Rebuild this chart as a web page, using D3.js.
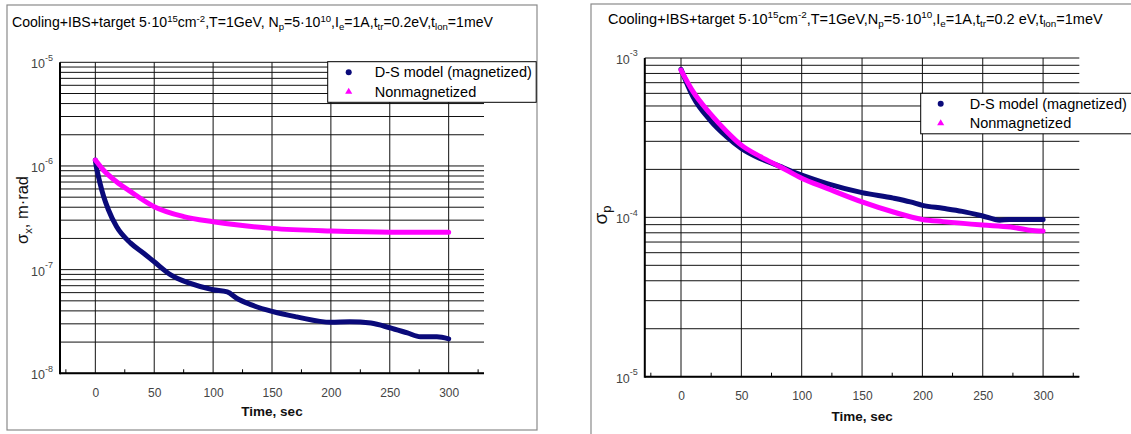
<!DOCTYPE html>
<html>
<head>
<meta charset="utf-8">
<script src="https://cdn.jsdelivr.net/npm/d3@7/dist/d3.min.js"></script>
<style>
  html, body { margin: 0; padding: 0; background: #fff; }
  svg { display: block; font-family: "Liberation Sans", Arial, sans-serif; }
</style>
</head>
<body>
<svg id="chart" width="1131" height="434"></svg>
<script>
// Shared time axis
const xDomain = [-30, 330];
const timeTicks = [0, 50, 100, 150, 200, 250, 300];
const timeMinorTicks = [-25, 25, 75, 125, 175, 225, 275, 325];

// Transverse emittance (left panel)
const emitDecades = [1e-8, 1e-7, 1e-6, 1e-5];
const emitMagT = [0, 1, 2, 4, 7, 11, 18, 30, 41, 50, 64, 80, 100, 112, 120, 132, 150, 171, 200, 216, 234, 250, 265, 276, 290, 300];
const emitMagV = [1.14e-6, 9.6e-7, 8.5e-7, 6.8e-7, 5.1e-7, 3.8e-7, 2.6e-7, 1.8e-7, 1.44e-7, 1.19e-7, 8.9e-8, 7.4e-8, 6.4e-8, 6.1e-8, 5.3e-8, 4.6e-8, 3.95e-8, 3.5e-8, 3.1e-8, 3.15e-8, 3.05e-8, 2.75e-8, 2.45e-8, 2.25e-8, 2.25e-8, 2.15e-8];
const emitNonT = [0, 7, 18, 30, 50, 75, 100, 125, 150, 200, 250, 300];
const emitNonV = [1.14e-6, 9.1e-7, 7.05e-7, 5.65e-7, 4.05e-7, 3.25e-7, 2.9e-7, 2.66e-7, 2.5e-7, 2.36e-7, 2.3e-7, 2.3e-7];

// Momentum spread (right panel)
const spreadDecades = [1e-5, 1e-4, 1e-3];
const spreadMagT = [0, 10, 24, 38, 50, 65, 80, 100, 121, 150, 176, 190, 200, 217, 233, 250, 264, 272, 285, 300];
const spreadMagV = [8.5e-4, 5.7e-4, 4.08e-4, 3.2e-4, 2.71e-4, 2.35e-4, 2.12e-4, 1.84e-4, 1.63e-4, 1.43e-4, 1.32e-4, 1.25e-4, 1.19e-4, 1.14e-4, 1.09e-4, 1.02e-4, 9.6e-5, 9.7e-5, 9.7e-5, 9.7e-5];
const spreadNonT = [0, 10, 24, 38, 50, 66, 82, 100, 121, 150, 176, 200, 217, 250, 273, 289, 300];
const spreadNonV = [8.4e-4, 6.15e-4, 4.5e-4, 3.45e-4, 2.84e-4, 2.4e-4, 2.08e-4, 1.76e-4, 1.52e-4, 1.25e-4, 1.08e-4, 9.7e-5, 9.4e-5, 8.95e-5, 8.7e-5, 8.3e-5, 8.2e-5];

const seriesNames = ["D-S model (magnetized)", "Nonmagnetized"];
const seriesColors = ["#0a0a7a", "#ff00ff"];

// Title pieces: [text, kind] where kind is "", "sup" or "sub"
const titleLeft = [["Cooling+IBS+target 5·10", ""], ["15", "sup"], ["cm", ""], ["-2", "sup"],
  [",T=1GeV, N", ""], ["p", "sub"], ["=5·10", ""], ["10", "sup"], [",I", ""], ["e", "sub"],
  ["=1A,t", ""], ["tr", "sub"], ["=0.2eV,t", ""], ["lon", "sub"], ["=1meV", ""]];
const titleRight = [["Cooling+IBS+target 5·10", ""], ["15", "sup"], ["cm", ""], ["-2", "sup"],
  [",T=1GeV,N", ""], ["p", "sub"], ["=5·10", ""], ["10", "sup"], [",I", ""], ["e", "sub"],
  ["=1A,t", ""], ["tr", "sub"], ["=0.2 eV,t", ""], ["lon", "sub"], ["=1meV", ""]];

const zip = (ts, vs) => ts.map((t, i) => ({ t, v: vs[i] }));

const svg = d3.select("#chart");
svg.append("rect").attr("width", 1131).attr("height", 434).attr("fill", "#fff");

function richText(sel, parts, size) {
  let shift = 0;
  parts.forEach(([txt, kind]) => {
    const target = kind === "sup" ? -0.38 * size : kind === "sub" ? 0.22 * size : 0;
    sel.append("tspan").text(txt)
      .attr("dy", target - shift)
      .attr("font-size", kind ? size * 0.68 : size);
    shift = target;
  });
}

function drawPanel(cfg) {
  const g = svg.append("g");
  const x = d3.scaleLinear().domain(xDomain).range([cfg.x0, cfg.x1]);
  const y = d3.scaleLog().domain([cfg.decades[0], cfg.decades[cfg.decades.length - 1]])
    .range([cfg.yBot, cfg.yTop]);

  // panel frame
  g.append("rect").attr("x", cfg.frame[0]).attr("y", cfg.frame[1])
    .attr("width", cfg.frame[2]).attr("height", cfg.frame[3])
    .attr("fill", "none").attr("stroke", "#8a8a8a").attr("stroke-width", 1.2);

  // title
  const title = g.append("text").attr("x", cfg.titlePos[0]).attr("y", cfg.titlePos[1])
    .attr("fill", "#000");
  richText(title, cfg.title, cfg.titleSize);

  // horizontal grid at every log tick
  const hTicks = y.ticks();
  g.append("g").selectAll("line").data(hTicks).join("line")
    .attr("x1", cfg.x0).attr("x2", cfg.x1)
    .attr("y1", d => y(d)).attr("y2", d => y(d))
    .attr("stroke", "#111").attr("stroke-width", 1);

  // vertical grid
  g.append("g").selectAll("line").data(timeTicks).join("line")
    .attr("x1", d => x(d)).attr("x2", d => x(d))
    .attr("y1", cfg.yTop).attr("y2", cfg.yBot)
    .attr("stroke", "#111").attr("stroke-width", 1);

  // bottom axis with labels
  const xAxis = d3.axisBottom(x).tickValues(timeTicks).tickSize(0).tickPadding(cfg.xLabelPad)
    .tickFormat(d3.format("d"));
  const xg = g.append("g").attr("transform", `translate(0,${cfg.yBot})`).call(xAxis);
  xg.select(".domain").remove();
  xg.selectAll("text").attr("font-size", 12).attr("fill", "#444")
    .attr("font-family", "Liberation Sans, Arial, sans-serif");

  // minor x ticks pointing inward
  g.append("g").selectAll("line").data(timeMinorTicks).join("line")
    .attr("x1", d => x(d)).attr("x2", d => x(d))
    .attr("y1", cfg.yBot).attr("y2", cfg.yBot - 4)
    .attr("stroke", "#000").attr("stroke-width", 1);

  // left axis with power-of-ten labels
  const yAxis = d3.axisLeft(y).tickValues(cfg.decades).tickSize(0).tickPadding(7)
    .tickFormat(() => "");
  const yg = g.append("g").attr("transform", `translate(${cfg.x0},0)`).call(yAxis);
  yg.select(".domain").remove();
  yg.selectAll(".tick text").each(function (d) {
    const t = d3.select(this).attr("font-size", 12.5).attr("fill", "#444")
      .attr("font-family", "Liberation Sans, Arial, sans-serif").attr("dy", "0.45em");
    t.append("tspan").text("10");
    t.append("tspan").text(String(Math.round(Math.log10(d)))).attr("font-size", 9).attr("dy", "-0.85em");
  });

  // axis lines
  g.append("line").attr("x1", cfg.x0).attr("x2", cfg.x0).attr("y1", cfg.yTop).attr("y2", cfg.yBot + 1)
    .attr("stroke", "#000").attr("stroke-width", 2);
  g.append("line").attr("x1", cfg.x0).attr("x2", cfg.x1).attr("y1", cfg.yBot).attr("y2", cfg.yBot)
    .attr("stroke", "#000").attr("stroke-width", 2);

  // axis titles
  g.append("text").attr("x", (cfg.x0 + cfg.x1) / 2).attr("y", cfg.yBot + cfg.xTitlePad)
    .attr("text-anchor", "middle").attr("font-size", 13.5).attr("font-weight", "bold")
    .attr("fill", "#111").text("Time, sec");
  const yt = g.append("text").attr("transform", `translate(${cfg.yTitlePos[0]},${cfg.yTitlePos[1]}) rotate(-90)`)
    .attr("text-anchor", "middle").attr("fill", "#111");
  richText(yt, cfg.yTitle, cfg.yTitleSize);

  // series
  const line = d3.line().x(d => x(d.t)).y(d => y(d.v)).curve(d3.curveMonotoneX);
  cfg.series.forEach((s, i) => {
    g.append("path").datum(s).attr("d", line).attr("fill", "none")
      .attr("stroke", seriesColors[i]).attr("stroke-width", 5)
      .attr("stroke-linejoin", "round").attr("stroke-linecap", "round");
  });

  // legend
  const [lx, ly, lw, lh] = cfg.legend;
  const lg = g.append("g");
  lg.append("rect").attr("x", lx).attr("y", ly).attr("width", lw).attr("height", lh)
    .attr("fill", "#fff").attr("stroke", "#000").attr("stroke-width", 1);
  seriesNames.forEach((name, i) => {
    const cy = ly + lh * (i === 0 ? 0.26 : 0.74);
    const mx = lx + cfg.legendMarkerDx;
    if (i === 0) {
      lg.append("circle").attr("cx", mx).attr("cy", cy).attr("r", 3).attr("fill", seriesColors[0]);
    } else {
      lg.append("path").attr("d", d3.symbol(d3.symbolTriangle, 22)())
        .attr("transform", `translate(${mx},${cy})`).attr("fill", seriesColors[1]);
    }
    lg.append("text").attr("x", mx + cfg.legendTextDx).attr("y", cy).attr("dy", "0.35em")
      .attr("font-size", 14.5).attr("fill", "#000").text(name);
  });
}

drawPanel({
  frame: [7, 5, 530, 425],
  x0: 60, x1: 484, yTop: 62.3, yBot: 373.3,
  decades: emitDecades,
  title: titleLeft, titleSize: 14.1, titlePos: [12, 27],
  xLabelPad: 15, xTitlePad: 43,
  yTitle: [["σ", ""], ["x", "sub"], [", m·rad", ""]], yTitleSize: 16.5, yTitlePos: [28, 210],
  legend: [327.7, 61.7, 208.5, 40.6], legendMarkerDx: 21, legendTextDx: 26,
  series: [zip(emitMagT, emitMagV), zip(emitNonT, emitNonV)]
});

drawPanel({
  frame: [591, 4, 600, 440],
  x0: 644.8, x1: 1079.3, yTop: 58, yBot: 376.7,
  decades: spreadDecades,
  title: titleRight, titleSize: 14.5, titlePos: [608, 24],
  xLabelPad: 15, xTitlePad: 44,
  yTitle: [["σ", ""], ["p", "sub"]], yTitleSize: 19, yTitlePos: [607, 215],
  legend: [920.7, 93.3, 240, 40.5], legendMarkerDx: 20, legendTextDx: 29,
  series: [zip(spreadMagT, spreadMagV), zip(spreadNonT, spreadNonV)]
});
</script>
</body>
</html>
